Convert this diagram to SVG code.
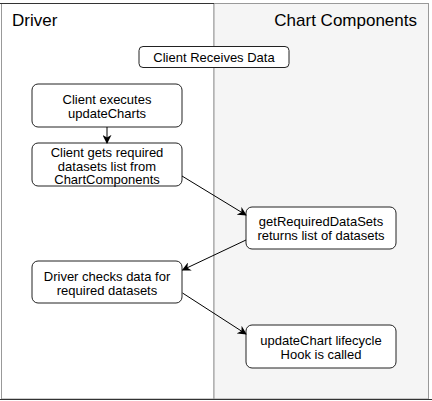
<svg xmlns="http://www.w3.org/2000/svg" width="432" height="401" viewBox="0 0 432 401">
<defs>
<style>
.node rect{fill:#fff;stroke:#222;stroke-width:1}
.node text,.hdr{font-family:"Liberation Sans",Arial,sans-serif;fill:#000}
.node text{font-size:13px;text-anchor:middle}
.hdr{font-size:17px}
.conn line{stroke:#000;stroke-width:1;fill:none;marker-end:url(#arr)}
</style>
<marker id="arr" viewBox="0 0 10 10" refX="9" refY="5" markerWidth="9" markerHeight="9" markerUnits="userSpaceOnUse" orient="auto">
<path d="M0,0 L10,5 L0,10 L3,5 Z" fill="#000"/>
</marker>
</defs>
<rect width="432" height="401" fill="#fff"/>
<g id="lanes">
<rect x="1.5" y="3.5" width="212.5" height="395.5" fill="#fff" stroke="#999"/>
<rect x="214" y="3.5" width="214.5" height="395.5" fill="#f5f5f5" stroke="#999"/>
<line x1="0" y1="3.5" x2="214" y2="3.5" stroke="#333"/>
<line x1="0" y1="399.5" x2="432" y2="399.5" stroke="#333"/>
<text class="hdr" x="12" y="26">Driver</text>
<text class="hdr" x="417" y="26" text-anchor="end">Chart Components</text>
</g>
<g id="n-receives" class="node">
<rect x="139" y="46.5" width="150" height="21" rx="4"/>
<text x="214" y="62">Client Receives Data</text>
</g>
<g id="n-executes" class="node">
<rect x="32" y="84" width="150" height="43" rx="6"/>
<text x="107" y="104">Client executes</text>
<text x="107" y="118">updateCharts</text>
</g>
<g id="n-gets" class="node">
<rect x="32" y="143" width="150" height="43" rx="6"/>
<text x="107" y="156.5">Client gets required</text>
<text x="107" y="170.5">datasets list from</text>
<text x="107" y="184">ChartComponents</text>
</g>
<g id="n-getreq" class="node">
<rect x="246" y="207" width="150" height="42" rx="6"/>
<text x="321" y="226">getRequiredDataSets</text>
<text x="321" y="240">returns list of datasets</text>
</g>
<g id="n-checks" class="node">
<rect x="32" y="261" width="150" height="42" rx="6"/>
<text x="107" y="281">Driver checks data for</text>
<text x="107" y="295">required datasets</text>
</g>
<g id="n-update" class="node">
<rect x="246" y="325" width="150" height="43" rx="6"/>
<text x="321" y="345">updateChart lifecycle</text>
<text x="321" y="359">Hook is called</text>
</g>
<g id="connectors" class="conn">
<line x1="107" y1="127" x2="107" y2="143"/>
<line x1="182" y1="176" x2="246" y2="215"/>
<line x1="246" y1="240" x2="182.5" y2="270"/>
<line x1="182.5" y1="293" x2="246" y2="334"/>
</g>
</svg>
